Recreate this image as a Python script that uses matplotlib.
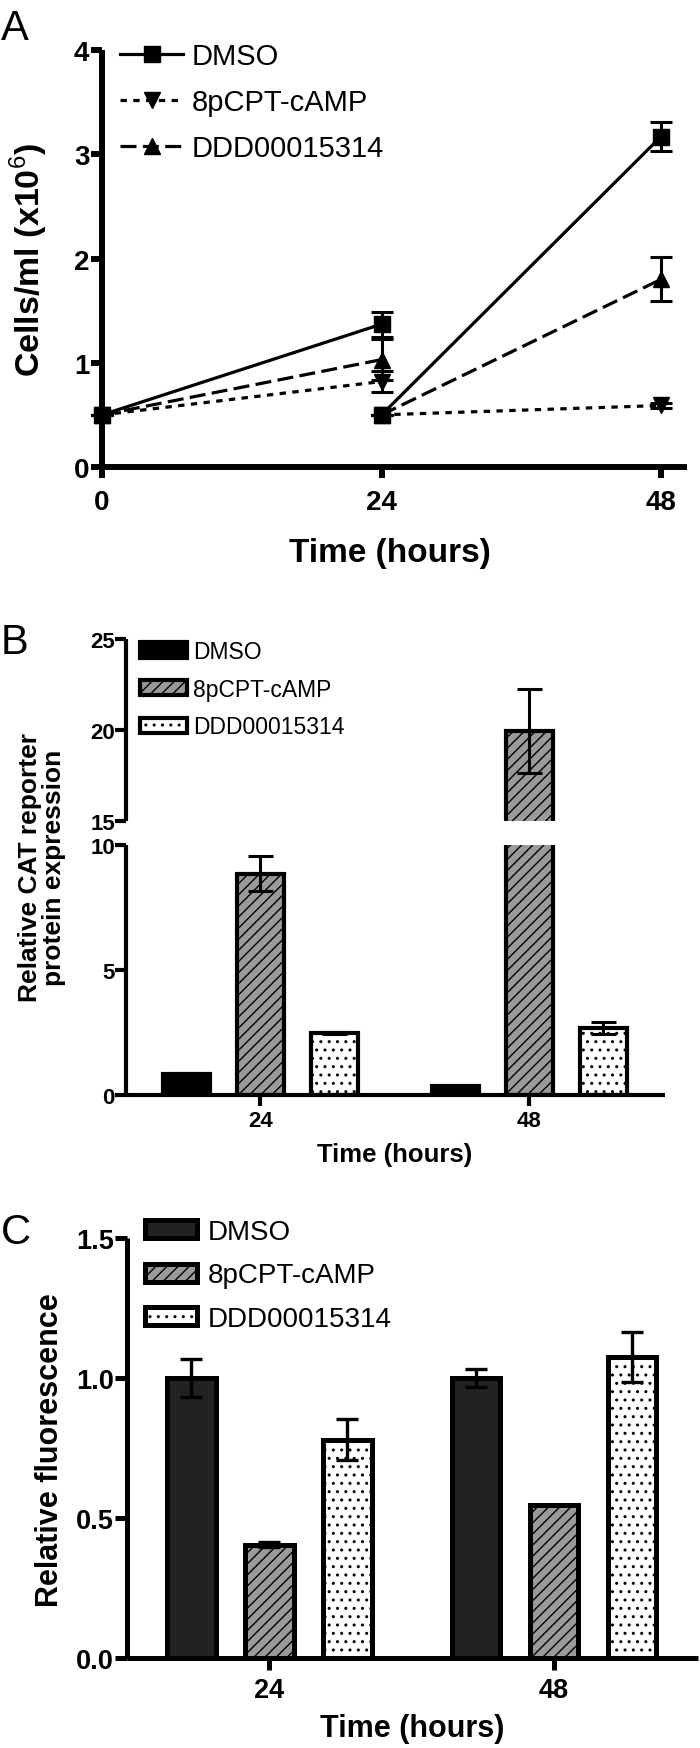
import numpy as np
import matplotlib
matplotlib.use("Agg")
import matplotlib.pyplot as plt

# ---------------- data ----------------
series_names = ["DMSO", "8pCPT-cAMP", "DDD00015314"]

# Panel A: cell density (x10^6 cells/ml); cultures diluted back at 24 h
phase1_hours = [0, 24]
phase2_hours = [24, 48]
dmso_phase1 = [0.50, 1.37]
dmso_phase1_err = [0.0, 0.12]
dmso_phase2 = [0.50, 3.17]
dmso_phase2_err = [0.0, 0.14]
cpt_phase1 = [0.50, 0.82]
cpt_phase1_err = [0.0, 0.10]
cpt_phase2 = [0.50, 0.59]
cpt_phase2_err = [0.0, 0.02]
ddd_phase1 = [0.50, 1.03]
ddd_phase1_err = [0.0, 0.20]
ddd_phase2 = [0.50, 1.80]
ddd_phase2_err = [0.0, 0.21]
a_xticks = [0, 24, 48]
a_yticks = [0, 1, 2, 3, 4]

# Panel B: relative CAT reporter protein expression
bar_groups = ["24", "48"]
cat_dmso = [0.85, 0.35]
cat_dmso_err = [0.05, 0.02]
cat_cpt = [8.85, 19.95]
cat_cpt_err = [0.70, 2.30]
cat_ddd = [2.48, 2.70]
cat_ddd_err = [0.03, 0.24]
b_upper_ticks = [15, 20, 25]
b_lower_ticks = [0, 5, 10]

# Panel C: relative fluorescence
fl_dmso = [1.00, 1.00]
fl_dmso_err = [0.068, 0.033]
fl_cpt = [0.405, 0.545]
fl_cpt_err = [0.010, 0.0]
fl_ddd = [0.78, 1.076]
fl_ddd_err = [0.073, 0.09]
c_yticks = [0.0, 0.5, 1.0, 1.5]

# ---------------- style ----------------
plt.rcParams["font.family"] = ["Liberation Sans", "DejaVu Sans"]
plt.rcParams["mathtext.fontset"] = "custom"
plt.rcParams["mathtext.rm"] = "Liberation Sans"
plt.rcParams["mathtext.bf"] = "Liberation Sans:bold"
plt.rcParams["hatch.linewidth"] = 1.0

W, H = 700, 1749
fig = plt.figure(figsize=(W / 100, H / 100), dpi=100)


def px_axes(left, top, right, bottom):
    return fig.add_axes([left / W, 1 - bottom / H, (right - left) / W, (bottom - top) / H])


def fx(x):
    return x / W


def fy(y):
    return 1 - y / H


def style_axes(ax, lw, ticklen, fs, xpad, ypad):
    for s in ["top", "right"]:
        ax.spines[s].set_visible(False)
    for s in ["left", "bottom"]:
        ax.spines[s].set_linewidth(lw)
        ax.spines[s].set_capstyle("butt")
    ax.tick_params(axis="both", length=ticklen, width=lw, labelsize=fs)
    ax.tick_params(axis="x", pad=xpad)
    ax.tick_params(axis="y", pad=ypad)
    for lab in ax.get_xticklabels() + ax.get_yticklabels():
        lab.set_fontweight("bold")


# ---------------- Panel A ----------------
axA = px_axes(102, 51, 687, 468)
line_specs = [
    (dmso_phase1, dmso_phase1_err, dmso_phase2, dmso_phase2_err, "s", (None, None)),
    (cpt_phase1, cpt_phase1_err, cpt_phase2, cpt_phase2_err, "v", (2, 2)),
    (ddd_phase1, ddd_phase1_err, ddd_phase2, ddd_phase2_err, "^", (5, 2)),
]
handlesA = []
for i, (p1, e1, p2, e2, mk, dash) in enumerate(line_specs):
    for j, (xs, ys, es) in enumerate([(phase1_hours, p1, e1), (phase2_hours, p2, e2)]):
        cont = axA.errorbar(xs, ys, yerr=es, color="black", lw=2.3, ls="-",
                            marker=mk, ms=11, mfc="black", mec="black",
                            elinewidth=2.2, capsize=8, capthick=2.2,
                            clip_on=False, zorder=3 + (2 - i))
        ln = cont.lines[0]
        if dash[0] is not None:
            ln.set_dashes(dash)
        for c in cont.lines[1]:
            c.set_clip_on(False)
        for c in cont.lines[2]:
            c.set_clip_on(False)
        if j == 0:
            handlesA.append(ln)
axA.set_xlim(0, 50.23)
axA.set_ylim(0, 4)
axA.set_xticks(a_xticks)
axA.set_yticks(a_yticks)
axA.set_xticklabels([str(v) for v in a_xticks])
axA.set_yticklabels([str(v) for v in a_yticks])
style_axes(axA, 4.3, 8, 20, 8, 1)
axA.legend(handlesA, series_names, loc="upper left",
           bbox_to_anchor=(fx(120), fy(43)), bbox_transform=fig.transFigure,
           frameon=False, borderpad=0, borderaxespad=0, fontsize=21,
           handlelength=2.17, handletextpad=0.28, labelspacing=0.62,
           numpoints=1)
fig.text(fx(390), fy(554), "Time (hours)", fontsize=24, fontweight="bold",
         ha="center", va="center")
fig.text(fx(29), fy(260), "Cells/ml (x10$^6$)", fontsize=24.5, fontweight="bold",
         ha="center", va="center", rotation=90)
fig.text(fx(1), fy(40), "A", fontsize=30, ha="left", va="baseline")

# ---------------- Panel B ----------------
axBu = px_axes(126, 640, 665, 822)
axBl = px_axes(126, 846, 665, 1096)
xg = np.arange(len(bar_groups))
bw_b = 0.175
off_b = 0.275
bar_specs_b = [
    (cat_dmso, cat_dmso_err, "black", None),
    (cat_cpt, cat_cpt_err, "#9a9a9a", "///"),
    (cat_ddd, cat_ddd_err, "white", ".."),
]
handlesB = []
for ax in (axBu, axBl):
    for k, (vals, errs, col, hat) in enumerate(bar_specs_b):
        bc = ax.bar(xg + (k - 1) * off_b, vals, bw_b, color=col, edgecolor="black",
                    linewidth=3, hatch=hat, zorder=2)
        ax.errorbar(xg + (k - 1) * off_b, vals, yerr=errs, fmt="none", ecolor="black",
                    elinewidth=2.2, capsize=9, capthick=2.2, zorder=3)
        if ax is axBu:
            handlesB.append(bc)
    ax.set_xlim(-0.5, 1.505)
axBu.set_ylim(15, 25)
axBl.set_ylim(0, 10)
axBu.set_yticks(b_upper_ticks)
axBu.set_yticklabels([str(v) for v in b_upper_ticks])
axBl.set_yticks(b_lower_ticks)
axBl.set_yticklabels([str(v) for v in b_lower_ticks])
axBl.set_xticks(xg)
axBl.set_xticklabels(bar_groups)
style_axes(axBu, 3, 8, 16, 3, 0)
style_axes(axBl, 3, 8, 16, 3, 0)
axBu.spines["bottom"].set_visible(False)
axBu.tick_params(axis="x", bottom=False, labelbottom=False)
axBu.legend(handlesB, series_names, loc="upper left",
            bbox_to_anchor=(fx(140), fy(641)), bbox_transform=fig.transFigure,
            frameon=False, borderpad=0, borderaxespad=0, fontsize=16.5,
            handlelength=2.05, handleheight=0.64, handletextpad=0.27, labelspacing=0.64)
fig.text(fx(395), fy(1155), "Time (hours)", fontsize=18.5, fontweight="bold",
         ha="center", va="center")
fig.text(fx(42), fy(868), "Relative CAT reporter\nprotein expression", fontsize=19,
         fontweight="bold", ha="center", va="center", rotation=90, linespacing=1.0)
fig.text(fx(1), fy(654), "B", fontsize=30, ha="left", va="baseline")

# ---------------- Panel C ----------------
axC = px_axes(127, 1239, 698, 1659)
bw_c = 0.17
off_c = 0.274
bar_specs_c = [
    (fl_dmso, fl_dmso_err, "#222222", None),
    (fl_cpt, fl_cpt_err, "#9a9a9a", "///"),
    (fl_ddd, fl_ddd_err, "white", ".."),
]
handlesC = []
for k, (vals, errs, col, hat) in enumerate(bar_specs_c):
    bc = axC.bar(xg + (k - 1) * off_c, vals, bw_c, color=col, edgecolor="black",
                 linewidth=3.6, hatch=hat, zorder=2)
    axC.errorbar(xg + (k - 1) * off_c, vals, yerr=errs, fmt="none", ecolor="black",
                 elinewidth=2.4, capsize=8, capthick=2.4, zorder=3)
    handlesC.append(bc)
axC.set_xlim(-0.5, 1.505)
axC.set_ylim(0, 1.5)
axC.set_yticks(c_yticks)
axC.set_yticklabels([f"{v:.1f}" for v in c_yticks])
axC.set_xticks(xg)
axC.set_xticklabels(bar_groups)
style_axes(axC, 3.6, 8.5, 19.5, 5, 1)
axC.legend(handlesC, series_names, loc="upper left",
           bbox_to_anchor=(fx(145), fy(1220)), bbox_transform=fig.transFigure,
           frameon=False, borderpad=0, borderaxespad=0, fontsize=20,
           handlelength=1.86, handleheight=0.6, handletextpad=0.4, labelspacing=0.63)
fig.text(fx(412), fy(1729), "Time (hours)", fontsize=22, fontweight="bold",
         ha="center", va="center")
fig.text(fx(50), fy(1450), "Relative fluorescence", fontsize=22, fontweight="bold",
         ha="center", va="center", rotation=90)
fig.text(fx(1), fy(1244), "C", fontsize=30, ha="left", va="baseline")

fig.savefig("out.png", dpi=100)
